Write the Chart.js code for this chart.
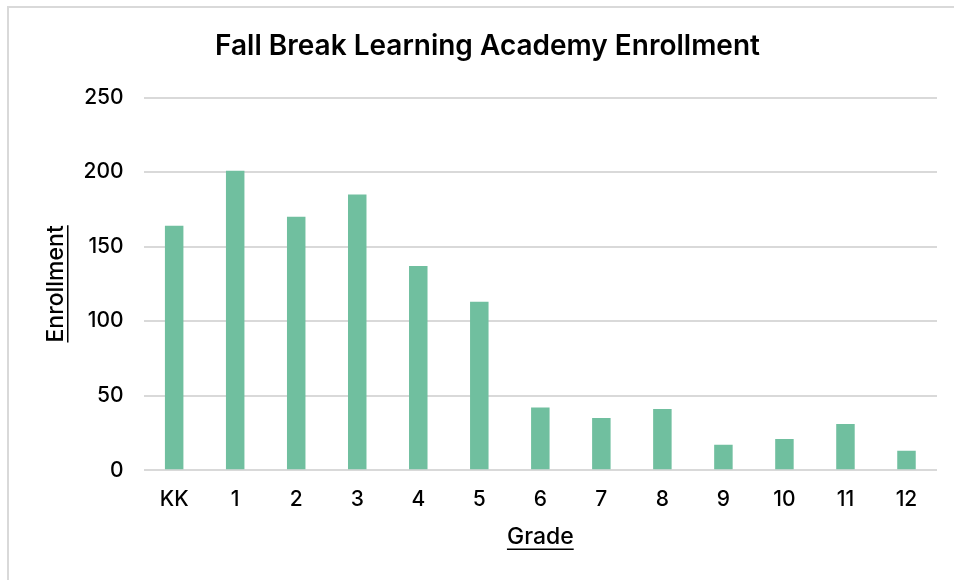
<!DOCTYPE html>
<html>
<head>
<meta charset="utf-8">
<script src="https://cdn.jsdelivr.net/npm/chart.js@4.4.0/dist/chart.umd.min.js"></script>
<style>
  html, body { margin: 0; padding: 0; background: #fff; }
  #wrap { position: relative; width: 954px; height: 580px; overflow: hidden; }
  #frame { position: absolute; left: 7px; top: 6px; right: -10px; bottom: -10px;
           border-top: 2px solid #d9d9d9; border-left: 2px solid #d9d9d9; pointer-events: none; }
  canvas { position: absolute; left: 0; top: 0; }
</style>
</head>
<body>
<div id="wrap">
  <canvas id="chart" width="954" height="580"></canvas>
  <div id="frame"></div>
</div>
<script>
// values
const grades = ['KK', '1', '2', '3', '4', '5', '6', '7', '8', '9', '10', '11', '12'];
const enrollment = [164, 201, 170, 185, 137, 113, 42, 35, 41, 17, 21, 31, 13];
const yTicks = [0, 50, 100, 150, 200, 250];

const FONT = 'Inter, "Liberation Sans", Arial, sans-serif';
const GRID = '#d9d9d9';

// Chart.js has no underline option for axis titles, so draw it after the fact
const underlineTitles = {
  id: 'underlineTitles',
  afterDraw(chart) {
    const ctx = chart.ctx;
    ['x', 'y'].forEach((id) => {
      const scale = chart.scales[id];
      const t = scale.options.title;
      const size = t.font.size;
      const lineHeight = size * 1.2;
      ctx.save();
      ctx.font = `${t.font.weight || 'normal'} ${size}px ${FONT}`;
      const w = ctx.measureText(t.text).width;
      ctx.strokeStyle = '#000';
      ctx.lineWidth = 1.5;
      ctx.beginPath();
      if (id === 'x') {
        const cx = (scale.left + scale.right) / 2;
        const cy = scale.bottom - (lineHeight / 2 + t.padding.bottom) + size * 0.52;
        ctx.moveTo(cx - w / 2, cy);
        ctx.lineTo(cx + w / 2, cy);
      } else {
        const cx = scale.left + lineHeight / 2 + t.padding.top + size * 0.52;
        const cy = (scale.top + scale.bottom) / 2;
        ctx.moveTo(cx, cy - w / 2);
        ctx.lineTo(cx, cy + w / 2);
      }
      ctx.stroke();
      ctx.restore();
    });
  }
};

const ctx = document.getElementById('chart').getContext('2d');
new Chart(ctx, {
  type: 'bar',
  data: {
    labels: grades,
    datasets: [
      {
        label: 'Enrollment',
        data: enrollment,
        backgroundColor: '#70bf9f',
        borderWidth: 0,
        categoryPercentage: 1,
        barPercentage: 0.303,
      },
    ],
  },
  options: {
    responsive: false,
    animation: false,
    layout: { padding: { left: 38, right: 17, top: 0, bottom: 0 } },
    plugins: {
      legend: { display: false },
      tooltip: { enabled: false },
      title: {
        display: true,
        text: 'Fall Break Learning Academy Enrollment',
        color: '#000',
        font: { family: FONT, size: 28, weight: '600' },
        padding: { top: 30, bottom: 34 },
      },
    },
    scales: {
      x: {
        grid: { display: false, drawTicks: false },
        border: { display: false },
        ticks: {
          color: '#000',
          padding: 17,
          font: { family: FONT, size: 21, weight: '500' },
        },
        title: {
          display: true,
          text: 'Grade',
          color: '#000',
          font: { family: FONT, size: 23, weight: '500' },
          padding: { top: -6, bottom: 29 },
        },
      },
      y: {
        min: 0,
        max: 250,
        afterBuildTicks: (scale) => {
          scale.ticks = yTicks.map((v) => ({ value: v }));
        },
        grid: { color: GRID, lineWidth: 2, drawTicks: false },
        border: { display: false },
        ticks: {
          color: '#000',
          padding: 20,
          font: { family: FONT, size: 21, weight: '500' },
        },
        title: {
          display: true,
          text: 'Enrollment',
          color: '#000',
          font: { family: FONT, size: 23, weight: '500' },
          padding: { top: 4, bottom: -6 },
        },
      },
    },
  },
  plugins: [underlineTitles],
});
</script>
</body>
</html>
